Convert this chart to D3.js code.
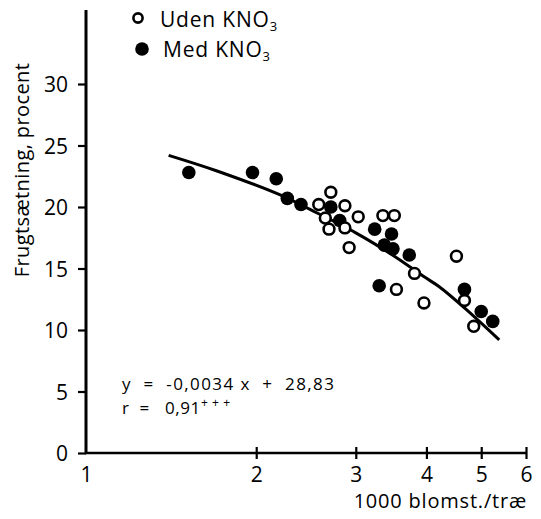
<!DOCTYPE html>
<html>
<head>
<meta charset="utf-8">
<script src="https://cdn.jsdelivr.net/npm/d3@7"></script>
<style>
  body { margin: 0; background: #fff; }
  svg text { font-family: "Open Sans", sans-serif; fill: #000; }
</style>
</head>
<body>
<div id="chart"></div>
<script>
// 1000 blomster pr. trae (x) og frugtsaetning i procent (y)
var udenX = [2.58, 2.71, 2.65, 2.69, 2.87, 2.87, 3.03, 2.92, 3.35, 3.51, 3.54, 3.81, 3.96, 4.52, 4.67, 4.85];
var udenY = [20.2, 21.2, 19.1, 18.2, 20.1, 18.3, 19.2, 16.7, 19.3, 19.3, 13.3, 14.6, 12.2, 16.0, 12.4, 10.3];

var medX = [1.52, 1.97, 2.17, 2.27, 2.40, 2.71, 2.81, 3.24, 3.37, 3.47, 3.49, 3.73, 3.30, 4.67, 5.0, 5.24];
var medY = [22.8, 22.8, 22.3, 20.7, 20.2, 20.0, 18.9, 18.2, 16.9, 17.8, 16.6, 16.1, 13.6, 13.3, 11.5, 10.7];

// regressionslinien som aflaest i figuren
var lineX = [1.40, 1.70, 2.20, 2.49, 3.0, 3.51, 3.97, 4.22, 4.67, 5.38];
var lineY = [24.2, 22.95, 21.0, 19.8, 17.9, 16.0, 14.3, 13.5, 11.8, 9.2];

var xTicks = [1, 2, 3, 4, 5, 6];
var yTicks = [0, 5, 10, 15, 20, 25, 30];

var w = 541;
var h = 519;

var svg = d3.select("#chart")
            .append("svg")
            .attr("width", w)
            .attr("height", h);

var x = d3.scaleLog().domain([1, 6]).range([86, 526]);
var y = d3.scaleLinear().domain([0, 30]).range([453, 84]);

//y axis
var yAxis = svg.append("g")
   .attr("transform", "translate(" + x(1) + ",0)")
   .call(d3.axisLeft(y).tickValues(yTicks).tickSize(8).tickPadding(10).tickSizeOuter(0));
yAxis.select(".domain").remove();
yAxis.selectAll("line").attr("stroke-width", 2.2);
yAxis.selectAll("text").attr("font-size", "21px").attr("dy", "0.36em");

svg.append("line")
   .attr("x1", x(1)).attr("x2", x(1))
   .attr("y1", 10).attr("y2", y(0) + 1)
   .attr("stroke", "#000").attr("stroke-width", 3);

//x axis
var xAxis = svg.append("g")
   .attr("transform", "translate(0," + y(0) + ")")
   .call(d3.axisBottom(x).tickValues(xTicks).tickFormat(d3.format("d")).tickSizeOuter(0));
xAxis.select(".domain").attr("stroke-width", 2.6).attr("d", "M" + (x(1) - 1) + ",0H" + (x(6) + 1));
xAxis.selectAll(".tick line")
     .attr("y1", -6).attr("y2", 6)
     .attr("stroke-width", 2.2)
     .attr("opacity", function(d) { return d == 1 ? 0 : 1; });
xAxis.selectAll(".tick text")
     .attr("font-size", "21px")
     .attr("y", 29).attr("dy", 0);

svg.append("text")
   .attr("x", 527).attr("y", 508)
   .attr("text-anchor", "end")
   .attr("font-size", "20px")
   .attr("letter-spacing", "0.8px")
   .text("1000 blomst./træ");

svg.append("text")
   .attr("transform", "translate(29,170) rotate(-90)")
   .attr("text-anchor", "middle")
   .attr("font-size", "20px")
   .attr("letter-spacing", "0.4px")
   .text("Frugtsætning, procent");

//regression curve
var curve = d3.line()
   .x(function(d) { return x(d[0]); })
   .y(function(d) { return y(d[1]); })
   .curve(d3.curveCatmullRom);

svg.append("path")
   .datum(d3.zip(lineX, lineY))
   .attr("d", curve)
   .attr("fill", "none")
   .attr("stroke", "#000")
   .attr("stroke-width", 3);

//points
svg.selectAll("circle.med")
   .data(d3.zip(medX, medY))
   .enter()
   .append("circle")
   .attr("class", "med")
   .attr("cx", function(d) { return x(d[0]); })
   .attr("cy", function(d) { return y(d[1]); })
   .attr("r", 6.8)
   .attr("fill", "#000");

svg.selectAll("circle.uden")
   .data(d3.zip(udenX, udenY))
   .enter()
   .append("circle")
   .attr("class", "uden")
   .attr("cx", function(d) { return x(d[0]); })
   .attr("cy", function(d) { return y(d[1]); })
   .attr("r", 5.4)
   .attr("fill", "#fff")
   .attr("stroke", "#000")
   .attr("stroke-width", 2.6);

//legend
svg.append("circle")
   .attr("cx", 138).attr("cy", 18).attr("r", 4.6)
   .attr("fill", "#fff").attr("stroke", "#000").attr("stroke-width", 2.6);
svg.append("circle")
   .attr("cx", 142).attr("cy", 49).attr("r", 6.8)
   .attr("fill", "#000");

var l1 = svg.append("text").attr("x", 160).attr("y", 27).attr("font-size", "21px").attr("letter-spacing", "0.8px");
l1.append("tspan").text("Uden KNO");
l1.append("tspan").attr("font-size", "13px").attr("dy", 4).text("3");

var l2 = svg.append("text").attr("x", 163).attr("y", 57).attr("font-size", "21px").attr("letter-spacing", "0.8px");
l2.append("tspan").text("Med KNO");
l2.append("tspan").attr("font-size", "13px").attr("dy", 4).text("3");

//equation
svg.append("text")
   .attr("x", 122).attr("y", 390)
   .attr("font-size", "17px")
   .attr("letter-spacing", "1.4px")
   .style("white-space", "pre")
   .text("y  =  -0,0034 x  +  28,83");

var r = svg.append("text")
   .attr("x", 122).attr("y", 414)
   .attr("font-size", "17px")
   .attr("letter-spacing", "0.6px")
   .style("white-space", "pre");
r.append("tspan").text("r  =   0,91");
r.append("tspan").attr("font-size", "12px").attr("dy", -7).text("+ + +");
</script>
</body>
</html>
